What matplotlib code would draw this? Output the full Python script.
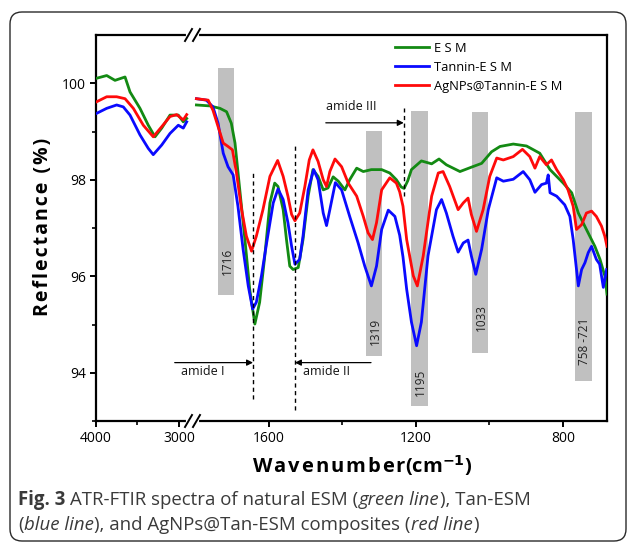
import numpy as np
import matplotlib
matplotlib.use("Agg")
import matplotlib.pyplot as plt
from matplotlib.patches import FancyBboxPatch
from matplotlib.lines import Line2D
from matplotlib.transforms import IdentityTransform

plt.rcParams['font.family'] = ['Open Sans', 'DejaVu Sans']

# ---------------- data ----------------
# high wavenumber region (4000 - ~2900 cm-1)
esm_hi_wn = [4000, 3871, 3771, 3650, 3590, 3470, 3370, 3289, 3208, 3108, 3008, 2948, 2907]
esm_hi_r = [100.10, 100.16, 100.06, 100.13, 99.82, 99.48, 99.13, 98.89, 99.07, 99.34, 99.34, 99.20, 99.27]
tan_hi_wn = [4000, 3871, 3751, 3671, 3590, 3470, 3370, 3310, 3208, 3108, 3008, 2948, 2907]
tan_hi_r = [99.37, 99.48, 99.55, 99.51, 99.34, 98.93, 98.65, 98.52, 98.72, 98.96, 99.13, 99.07, 99.20]
ag_hi_wn = [4000, 3871, 3751, 3650, 3550, 3430, 3310, 3208, 3108, 3028, 2948, 2907]
ag_hi_r = [99.61, 99.72, 99.72, 99.68, 99.48, 99.13, 98.89, 99.10, 99.31, 99.35, 99.24, 99.35]

# fingerprint region (~1800 - 680 cm-1)
esm_lo_wn = [1797, 1760, 1733, 1715, 1702, 1692, 1679, 1665, 1652, 1638, 1625, 1611, 1597, 1584,
             1575, 1561, 1552, 1543, 1534, 1520, 1507, 1493, 1480, 1466, 1452, 1439, 1425, 1411,
             1393, 1380, 1361, 1343, 1321, 1293, 1271, 1253, 1240, 1232, 1222, 1212, 1185, 1157,
             1137, 1117, 1080, 1049, 1021, 994, 971, 935, 899, 863, 835, 799, 776, 758, 736, 713,
             699, 686, 680]
esm_lo_r = [99.55, 99.53, 99.48, 99.41, 99.17, 98.76, 97.79, 96.76, 95.73, 95.01, 95.46, 96.42, 97.52, 97.93,
            97.86, 97.38, 96.76, 96.21, 96.14, 96.18, 96.76, 97.66, 98.21, 98.07, 97.79, 97.83, 98.06, 97.97,
            97.79, 98.00, 98.24, 98.17, 98.21, 98.21, 98.14, 98.00, 97.85, 97.82, 97.98, 98.21, 98.39, 98.33,
            98.43, 98.31, 98.17, 98.26, 98.34, 98.58, 98.69, 98.74, 98.70, 98.55, 98.21, 97.93, 97.73, 97.31,
            96.97, 96.62, 96.35, 96.01, 95.63]
tan_lo_wn = [1797, 1770, 1752, 1738, 1724, 1711, 1697, 1684, 1670, 1656, 1644, 1634, 1620, 1606,
             1588, 1575, 1561, 1548, 1538, 1529, 1516, 1507, 1493, 1478, 1466, 1452, 1443, 1434,
             1419, 1402, 1380, 1357, 1339, 1321, 1307, 1293, 1275, 1257, 1244, 1235, 1225, 1212,
             1198, 1185, 1167, 1144, 1130, 1117, 1099, 1085, 1071, 1058, 1049, 1037, 1021, 1003,
             980, 962, 935, 908, 890, 876, 858, 845, 840, 835, 817, 795, 781, 772, 758, 749, 740,
             731, 722, 709, 700, 690, 681]
tan_lo_r = [99.68, 99.65, 99.51, 99.17, 98.55, 98.27, 98.10, 97.45, 96.56, 95.80, 95.32, 95.46, 96.01, 96.69,
            97.52, 97.81, 97.59, 97.11, 96.62, 96.25, 96.35, 96.83, 97.79, 98.21, 98.00, 97.31, 97.05, 97.38,
            97.94, 97.79, 97.24, 96.69, 96.21, 95.80, 96.21, 96.97, 97.37, 97.24, 96.85, 96.40, 95.73, 95.05,
            94.56, 95.05, 96.42, 97.38, 97.59, 97.31, 96.83, 96.50, 96.69, 96.75, 96.42, 96.04, 96.56, 97.38,
            98.04, 97.97, 98.01, 98.17, 98.00, 97.74, 97.90, 97.93, 98.10, 97.73, 97.66, 97.48, 97.24, 96.76,
            95.80, 96.14, 96.28, 96.49, 96.62, 96.35, 96.25, 95.77, 96.14]
ag_lo_wn = [1797, 1765, 1752, 1738, 1724, 1711, 1699, 1688, 1674, 1661, 1647, 1634, 1616, 1597,
            1576, 1561, 1548, 1538, 1529, 1516, 1502, 1490, 1480, 1466, 1452, 1443, 1434, 1420,
            1402, 1384, 1361, 1343, 1330, 1318, 1307, 1293, 1271, 1253, 1244, 1235, 1225, 1207,
            1196, 1180, 1157, 1139, 1126, 1108, 1085, 1071, 1058, 1049, 1035, 1017, 999, 980,
            962, 935, 910, 890, 876, 863, 845, 831, 817, 799, 786, 772, 763, 749, 736, 722, 709,
            695, 686, 680]
ag_lo_r = [99.68, 99.65, 99.44, 99.10, 98.76, 98.69, 98.62, 98.14, 97.38, 96.83, 96.52, 96.83, 97.38, 98.07,
           98.40, 98.07, 97.66, 97.28, 97.15, 97.31, 97.86, 98.41, 98.62, 98.38, 98.00, 97.86, 98.17, 98.43,
           98.27, 97.93, 97.66, 97.24, 96.90, 96.76, 97.11, 97.79, 98.04, 97.93, 97.75, 97.45, 96.76, 96.01,
           95.80, 96.42, 97.66, 98.14, 98.17, 97.86, 97.38, 97.52, 97.62, 97.28, 96.93, 97.38, 98.07, 98.45,
           98.41, 98.48, 98.63, 98.48, 98.24, 98.48, 98.31, 98.41, 98.21, 98.00, 97.79, 97.45, 96.97, 97.07,
           97.31, 97.35, 97.24, 97.04, 96.83, 96.62]

series_names = ['E S M', 'Tannin-E S M', 'AgNPs@Tannin-E S M']
series_colors = ['#138a13', '#0a0aff', '#ff0a0a']

# highlighted bands
band_labels = ['1716', '1319', '1195', '1033', '758 -721']
band_center = [1716, 1314, 1190, 1025, 744]
band_bottom = [95.61, 94.35, 93.31, 94.41, 93.82]
band_top = [100.31, 99.01, 99.42, 99.41, 99.41]
band_label_y = [96.31, 94.85, 93.81, 95.15, 94.66]

# amide markers
amide_names = ['amide I', 'amide II', 'amide III']
amide_wn = [1643, 1529, 1233]

# ---------------- figure ----------------
W, H = 629, 544
fig = plt.figure(figsize=(W / 100, H / 100), dpi=100)

def fx(px):
    return px / W

def fy(py):
    return 1 - py / H

left, right, top, bottom, brk = 96, 607, 35, 421, 192
axL = fig.add_axes([fx(left), fy(bottom), fx(brk - left), (bottom - top) / H])
axR = fig.add_axes([fx(brk), fy(bottom), fx(right - brk), (bottom - top) / H], sharey=axL)
for ax in (axL, axR):
    ax.set_facecolor('none')

axL.set_xlim(4000, 2843)
axR.set_xlim(1809, 680)
axL.set_ylim(93, 101)

lw = 2.0
hi = [(esm_hi_wn, esm_hi_r), (tan_hi_wn, tan_hi_r), (ag_hi_wn, ag_hi_r)]
lo = [(esm_lo_wn, esm_lo_r), (tan_lo_wn, tan_lo_r), (ag_lo_wn, ag_lo_r)]
handles = []
for (xw, yr), c in zip(hi, series_colors):
    axL.plot(xw, yr, color=c, lw=lw, zorder=3)
for (xw, yr), c, n in zip(lo, series_colors, series_names):
    h, = axR.plot(xw, yr, color=c, lw=lw, zorder=3, label=n)
    handles.append(h)

# bands
widths = [45] * len(band_center)
axR.bar(band_center, np.array(band_top) - np.array(band_bottom), bottom=band_bottom,
        width=widths, color='#c0c0c0', zorder=1, linewidth=0)
for lab, cx, ly in zip(band_labels, band_center, band_label_y):
    axR.text(cx - 3, ly, lab, rotation=90, ha='center', va='center', fontsize=8.5,
             color='#222222', zorder=2)

# dashed amide lines
dash_ranges = [(93.46, 98.16), (93.22, 98.72), (97.66, 99.49)]
for wn, (y0, y1) in zip(amide_wn, dash_ranges):
    axR.plot([wn, wn], [y0, y1], color='black', lw=1.0, ls=(0, (3, 2.5)), zorder=4, clip_on=False)

arrow_kw = dict(arrowstyle='-|>', color='black', lw=0.9, mutation_scale=9, shrinkA=0, shrinkB=0)
# amide I
axR.annotate('', xy=(amide_wn[0], 94.21), xytext=(1856, 94.21), arrowprops=arrow_kw,
             annotation_clip=False)
axR.text(1838, 94.03, amide_names[0], ha='left', va='center', fontsize=9, color='#111111')
# amide II
axR.annotate('', xy=(amide_wn[1], 94.21), xytext=(1322, 94.21), arrowprops=arrow_kw,
             annotation_clip=False)
axR.text(1506, 94.03, amide_names[1], ha='left', va='center', fontsize=9, color='#111111')
# amide III
axR.annotate('', xy=(amide_wn[2], 99.18), xytext=(1445, 99.18), arrowprops=arrow_kw,
             annotation_clip=False)
axR.text(1445, 99.51, amide_names[2], ha='left', va='center', fontsize=9, color='#111111')

# spines & ticks
for ax in (axL, axR):
    for s in ax.spines.values():
        s.set_linewidth(1.6)
axL.spines['right'].set_visible(False)
axR.spines['left'].set_visible(False)

axL.set_xticks([4000, 3000])
axL.set_xticks([3500], minor=True)
axR.set_xticks([1600, 1200, 800])
axR.set_xticks([1400, 1000], minor=True)
axL.set_yticks([94, 96, 98, 100])
axL.set_yticks([93, 95, 97, 99], minor=True)
for ax in (axL, axR):
    ax.tick_params(which='major', direction='out', length=4, width=1.4, labelsize=10, pad=3)
    ax.tick_params(which='minor', direction='out', length=3, width=1.2)
axR.tick_params(axis='y', which='both', left=False, labelleft=False)

# break marks (pixel coordinates)
for yb in (top, bottom):
    fig.add_artist(Line2D([fx(188), fx(197)], [fy(yb), fy(yb)], color='white', lw=3,
                          transform=fig.transFigure))
    fig.add_artist(Line2D([fx(185), fx(192)], [fy(yb + 6), fy(yb - 6)], color='black', lw=1.4,
                          transform=fig.transFigure))
    fig.add_artist(Line2D([fx(193), fx(200)], [fy(yb + 6), fy(yb - 6)], color='black', lw=1.4,
                          transform=fig.transFigure))

# axis labels
hs = '\u200a'
fig.text(fx(43), fy(227), hs.join('Reflectance (%)'), rotation=90, ha='center', va='center',
         fontsize=14, fontweight='bold')
fig.text(fx(362), fy(466), hs.join('Wavenumber') + r'(cm$^{\mathbf{-1}}$)', ha='center', va='center',
         fontsize=14.5, fontweight='bold')

# legend
leg = axR.legend(handles=handles, loc='upper left', bbox_to_anchor=(fx(395), fy(42)),
                 bbox_transform=fig.transFigure, frameon=False, fontsize=9.3,
                 handlelength=2.6, handletextpad=0.45, labelspacing=0.45, borderpad=0,
                 borderaxespad=0)

# caption
def draw_runs(x_px, y_px, runs, size, color):
    renderer = fig.canvas.get_renderer()
    x = x_px
    for s, weight, style, gap in runs:
        t = fig.text(fx(x), fy(y_px), s, fontsize=size, fontweight=weight, fontstyle=style,
                     color=color, ha='left', va='baseline')
        bb = t.get_window_extent(renderer)
        x += bb.width + gap

cap_color = '#3a3a3a'
cap_size = 13.4
draw_runs(18, 505, [('Fig. 3', 'bold', 'normal', 4.5),
                    ('ATR-FTIR spectra of natural ESM (', 'normal', 'normal', 0.5),
                    ('green line', 'normal', 'italic', 0.5),
                    ('), Tan-ESM', 'normal', 'normal', 0)], cap_size, cap_color)
draw_runs(18, 530, [('(', 'normal', 'normal', 0.5),
                    ('blue line', 'normal', 'italic', 0.5),
                    ('), and AgNPs@Tan-ESM composites (', 'normal', 'normal', 0.5),
                    ('red line', 'normal', 'italic', 0.5),
                    (')', 'normal', 'normal', 0)], cap_size, cap_color)

# rounded frame (pixel coords, origin bottom-left)
box = FancyBboxPatch((10, H - 541), 616, 529, boxstyle='round,pad=0,rounding_size=12',
                     transform=IdentityTransform(), fill=False, edgecolor='#2a2a2a', lw=1.0)
fig.add_artist(box)

fig.savefig('out.png', dpi=100)
